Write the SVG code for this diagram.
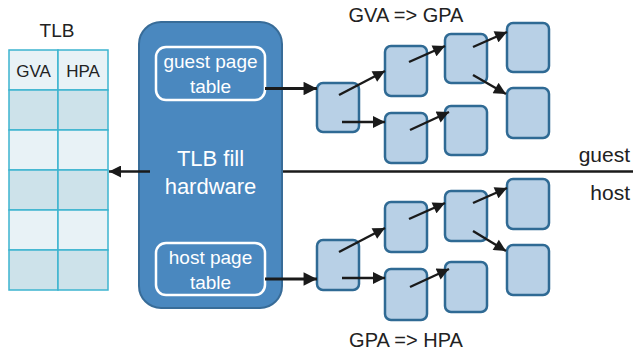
<svg xmlns="http://www.w3.org/2000/svg" width="635" height="355" viewBox="0 0 635 355">
<defs>
<marker id="ah" viewBox="0 0 10 10" refX="10" refY="5" markerWidth="5.5" markerHeight="5" orient="auto" markerUnits="strokeWidth">
<path d="M0,0 L10,5 L0,10 z" fill="#1a1a1a"/>
</marker>
<marker id="ah2" viewBox="0 0 10 10" refX="10" refY="5" markerWidth="4.5" markerHeight="4.2" orient="auto" markerUnits="strokeWidth">
<path d="M0,0 L10,5 L0,10 z" fill="#1a1a1a"/>
</marker>
<style>
.t{font-family:"Liberation Sans",Arial,sans-serif;fill:#222}
.w{font-family:"Liberation Sans",Arial,sans-serif;fill:#ffffff}
.n{fill:#b8d0e6;stroke:#2f6a94;stroke-width:2.5}
.c{stroke:#1a1a1a;stroke-width:2.4;fill:none;marker-end:url(#ah)}
.ct{stroke:#1a1a1a;stroke-width:3.2;fill:none;marker-end:url(#ah2)}
.cl{fill:#e8f2f6;stroke:#3cb4cf;stroke-width:1.5}
.cd{fill:#cde2ea;stroke:#3cb4cf;stroke-width:1.5}
</style>
</defs>
<rect width="635" height="355" fill="#ffffff"/>

<g id="tlb">
<text class="t" x="57" y="37" font-size="19" text-anchor="middle">TLB</text>
<rect class="cl" x="9" y="50" width="49" height="40"/><rect class="cl" x="58" y="50" width="50" height="40"/>
<rect class="cd" x="9" y="90" width="49" height="40"/><rect class="cd" x="58" y="90" width="50" height="40"/>
<rect class="cl" x="9" y="130" width="49" height="40"/><rect class="cl" x="58" y="130" width="50" height="40"/>
<rect class="cd" x="9" y="170" width="49" height="40"/><rect class="cd" x="58" y="170" width="50" height="40"/>
<rect class="cl" x="9" y="210" width="49" height="40"/><rect class="cl" x="58" y="210" width="50" height="40"/>
<rect class="cd" x="9" y="250" width="49" height="40"/><rect class="cd" x="58" y="250" width="50" height="40"/>
<text class="t" x="33.5" y="77" font-size="17" text-anchor="middle">GVA</text>
<text class="t" x="83" y="77" font-size="17" text-anchor="middle">HPA</text>
</g>

<g id="divider">
<line x1="282" y1="171.5" x2="633" y2="171.5" stroke="#1a1a1a" stroke-width="2.5"/>
<text class="t" x="630" y="162" font-size="21" text-anchor="end">guest</text>
<text class="t" x="630" y="200" font-size="21" text-anchor="end">host</text>
</g>

<g id="fill-hw">
<rect x="139" y="22" width="143" height="286" rx="22" fill="#4a88bf" stroke="#386c98" stroke-width="2"/>
<text class="w" x="210.5" y="166" font-size="22" text-anchor="middle">TLB fill</text>
<text class="w" x="210.5" y="194" font-size="22" text-anchor="middle">hardware</text>
</g>

<g id="guest-pt">
<rect x="156" y="47" width="109" height="53" rx="10" fill="none" stroke="#ffffff" stroke-width="2.5"/>
<text class="w" x="210.5" y="68" font-size="19" text-anchor="middle">guest page</text>
<text class="w" x="210.5" y="93" font-size="19" text-anchor="middle">table</text>
</g>

<g id="host-pt">
<rect x="156" y="243" width="109" height="52" rx="10" fill="none" stroke="#ffffff" stroke-width="2.5"/>
<text class="w" x="210.5" y="264" font-size="19" text-anchor="middle">host page</text>
<text class="w" x="210.5" y="289" font-size="19" text-anchor="middle">table</text>
</g>

<g id="label-gva">
<text class="t" x="406" y="22" font-size="20" text-anchor="middle">GVA =&gt; GPA</text>
</g>
<g id="label-gpa">
<text class="t" x="406" y="347" font-size="20" text-anchor="middle">GPA =&gt; HPA</text>
</g>

<g id="g-a"><rect class="n" x="317" y="83" width="42" height="49" rx="6"/></g>
<g id="g-b"><rect class="n" x="385" y="46" width="42" height="50" rx="6"/></g>
<g id="g-c"><rect class="n" x="385" y="113" width="42" height="50" rx="6"/></g>
<g id="g-d"><rect class="n" x="445" y="34" width="42" height="49" rx="6"/></g>
<g id="g-e"><rect class="n" x="445" y="106" width="42" height="49" rx="6"/></g>
<g id="g-f"><rect class="n" x="507" y="23" width="42" height="49" rx="6"/></g>
<g id="g-g"><rect class="n" x="507" y="88" width="42" height="50" rx="6"/></g>

<g id="h-a"><rect class="n" x="317" y="240" width="42" height="50" rx="6"/></g>
<g id="h-b"><rect class="n" x="385" y="202" width="42" height="50" rx="6"/></g>
<g id="h-c"><rect class="n" x="385" y="269" width="42" height="51" rx="6"/></g>
<g id="h-d"><rect class="n" x="445" y="191" width="42" height="50" rx="6"/></g>
<g id="h-e"><rect class="n" x="445" y="262" width="42" height="50" rx="6"/></g>
<g id="h-f"><rect class="n" x="507" y="179" width="42" height="50" rx="6"/></g>
<g id="h-g"><rect class="n" x="507" y="245" width="42" height="50" rx="6"/></g>

<g id="connectors">
<line class="c" x1="150" y1="171.5" x2="109" y2="171.5"/>
<line class="ct" x1="265" y1="88.5" x2="317" y2="88.5"/>
<line class="ct" x1="265" y1="279" x2="317" y2="279"/>
<line class="c" x1="339" y1="95" x2="385" y2="71"/>
<line class="c" x1="342" y1="122" x2="385" y2="122"/>
<line class="c" x1="409" y1="62" x2="445" y2="46"/>
<line class="c" x1="410" y1="130" x2="449" y2="112"/>
<line class="c" x1="473" y1="47" x2="507" y2="32"/>
<line class="c" x1="473" y1="75" x2="506" y2="94"/>
<line class="c" x1="339" y1="252" x2="385" y2="228"/>
<line class="c" x1="342" y1="278" x2="385" y2="278"/>
<line class="c" x1="409" y1="219" x2="445" y2="203"/>
<line class="c" x1="410" y1="287" x2="449" y2="269"/>
<line class="c" x1="473" y1="203" x2="507" y2="188"/>
<line class="c" x1="473" y1="231" x2="506" y2="251"/>
</g>
</svg>
